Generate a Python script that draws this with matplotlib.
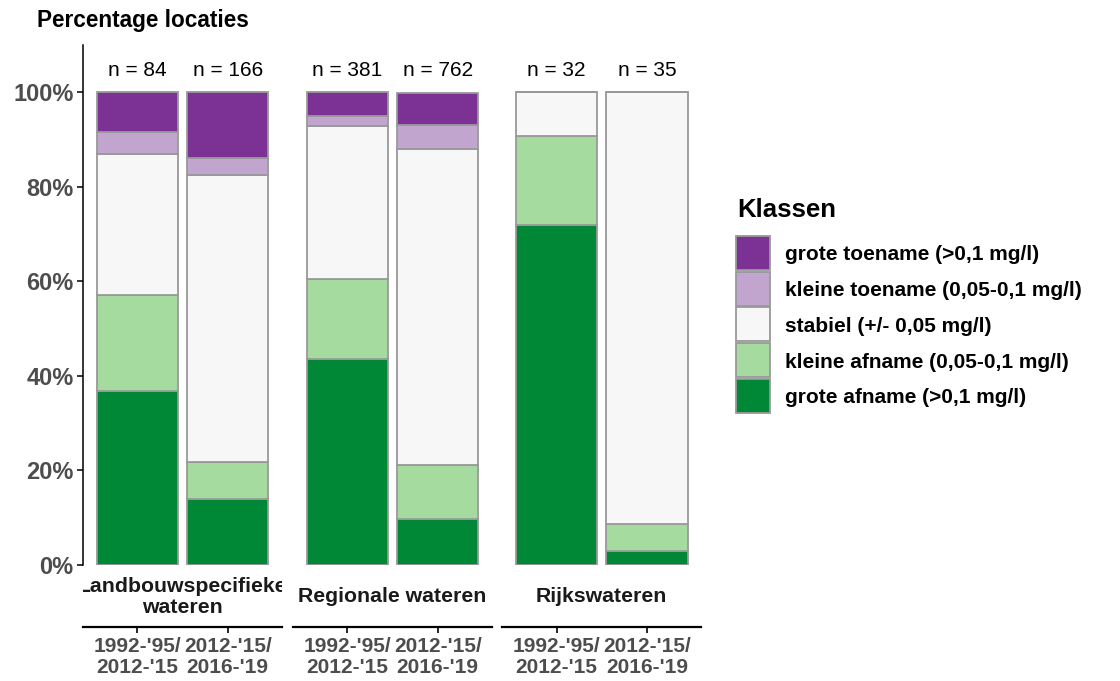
import matplotlib
matplotlib.use("Agg")
import matplotlib.pyplot as plt
from matplotlib.patches import Rectangle
from matplotlib.transforms import Bbox

plt.rcParams['font.family'] = ['Liberation Sans', 'DejaVu Sans']

# ---- data ----
facets = ["Landbouwspecifieke\nwateren", "Regionale wateren", "Rijkswateren"]
periods = ["1992-'95/\n2012-'15", "2012-'15/\n2016-'19"]
n_labels = [[84, 166], [381, 762], [32, 35]]
classes = ["grote afname (>0,1 mg/l)", "kleine afname (0,05-0,1 mg/l)",
           "stabiel (+/- 0,05 mg/l)", "kleine toename (0,05-0,1 mg/l)",
           "grote toename (>0,1 mg/l)"]
colors = ["#008837", "#A6DBA0", "#F7F7F7", "#C2A5CF", "#7B3294"]
# percentages per facet, per period, per class (bottom -> top)
grote_afname = [[36.9, 13.9], [43.6, 9.8], [71.9, 2.9]]
kleine_afname = [[20.2, 7.8], [16.8, 11.3], [18.8, 5.7]]
stabiel = [[29.8, 60.8], [32.5, 66.8], [9.4, 91.4]]
kleine_toename = [[4.8, 3.6], [2.1, 5.2], [0.0, 0.0]]
grote_toename = [[8.3, 13.9], [5.0, 6.8], [0.0, 0.0]]
series = [grote_afname, kleine_afname, stabiel, kleine_toename, grote_toename]
yticks = [0, 20, 40, 60, 80, 100]

W, H = 1120, 681
fig = plt.figure(figsize=(W / 100, H / 100), dpi=100)

panel_left = [83.2, 293.2, 502.5]
panel_w = 198.6
p_bottom, p_top = 565, 45
grey = "#4D4D4D"
edge = "#999999"

axes = []
for i, f in enumerate(facets):
    ax = fig.add_axes([panel_left[i] / W, (H - p_bottom) / H, panel_w / W, (p_bottom - p_top) / H])
    axes.append(ax)
    xs = [1, 2]
    bottoms = [0.0, 0.0]
    for s, col, lab in zip(series, colors, classes):
        vals = s[i]
        ax.bar(xs, vals, width=0.9, bottom=bottoms, color=col, edgecolor=edge, linewidth=1.3,
               zorder=2, label=lab)
        bottoms = [b + v for b, v in zip(bottoms, vals)]
    for x, nval in zip(xs, n_labels[i]):
        ax.text(x, 104.7, f"n = {nval}", ha='center', va='center', fontsize=15, color='black')
    ax.set_xlim(0.4, 2.6)
    ax.set_ylim(0, 110)
    for sp in ['top', 'right']:
        ax.spines[sp].set_visible(False)
    ax.spines['bottom'].set_position(('outward', 62 * 0.72))
    ax.spines['bottom'].set_linewidth(1.6)
    ax.set_xticks(xs)
    ax.set_xticklabels(periods, fontsize=15, fontweight='bold', color=grey, linespacing=1.15)
    ax.tick_params(axis='x', length=4, width=1.2, pad=3, color='black')
    if i == 0:
        ax.set_yticks(yticks)
        ax.set_yticklabels([f"{t}%" for t in yticks], fontsize=17, fontweight='bold', color=grey)
        ax.tick_params(axis='y', length=4, width=1.1, pad=3, color='black')
        ax.spines['left'].set_linewidth(1.1)
    else:
        ax.spines['left'].set_visible(False)
        ax.set_yticks([])
    # strip label below panel, clipped to panel width
    t = fig.text((panel_left[i] + panel_w / 2) / W, 1 - 597 / H, f, ha='center', va='center',
                 fontsize=15.3, fontweight='bold', color='#1A1A1A', linespacing=1.15)
    t.set_clip_box(Bbox.from_extents(panel_left[i], H - 625, panel_left[i] + panel_w, H - 566))
    t.set_clip_on(True)

fig.text(37 / W, 1 - 20 / H, "Percentage locaties", ha='left', va='center', fontsize=16.3, fontweight='bold')

# ---- legend (drawn as keys + labels, top entry = last class) ----
fig.text(737 / W, 1 - 210 / H, "Klassen", ha='left', va='center', fontsize=18.5, fontweight='bold')
key_x, key_w, key_h, pitch, top0 = 736, 34, 34, 35.7, 236
for k, (col, lab) in enumerate(zip(colors[::-1], classes[::-1])):
    top = top0 + k * pitch
    fig.add_artist(Rectangle((key_x / W, 1 - (top + key_h) / H), key_w / W, key_h / H,
                             transform=fig.transFigure, facecolor=col, edgecolor=edge, linewidth=1.3))
    fig.text(785 / W, 1 - (top + key_h / 2) / H, lab, ha='left', va='center_baseline',
             fontsize=15, fontweight='bold')

fig.savefig("out.png", dpi=100)
